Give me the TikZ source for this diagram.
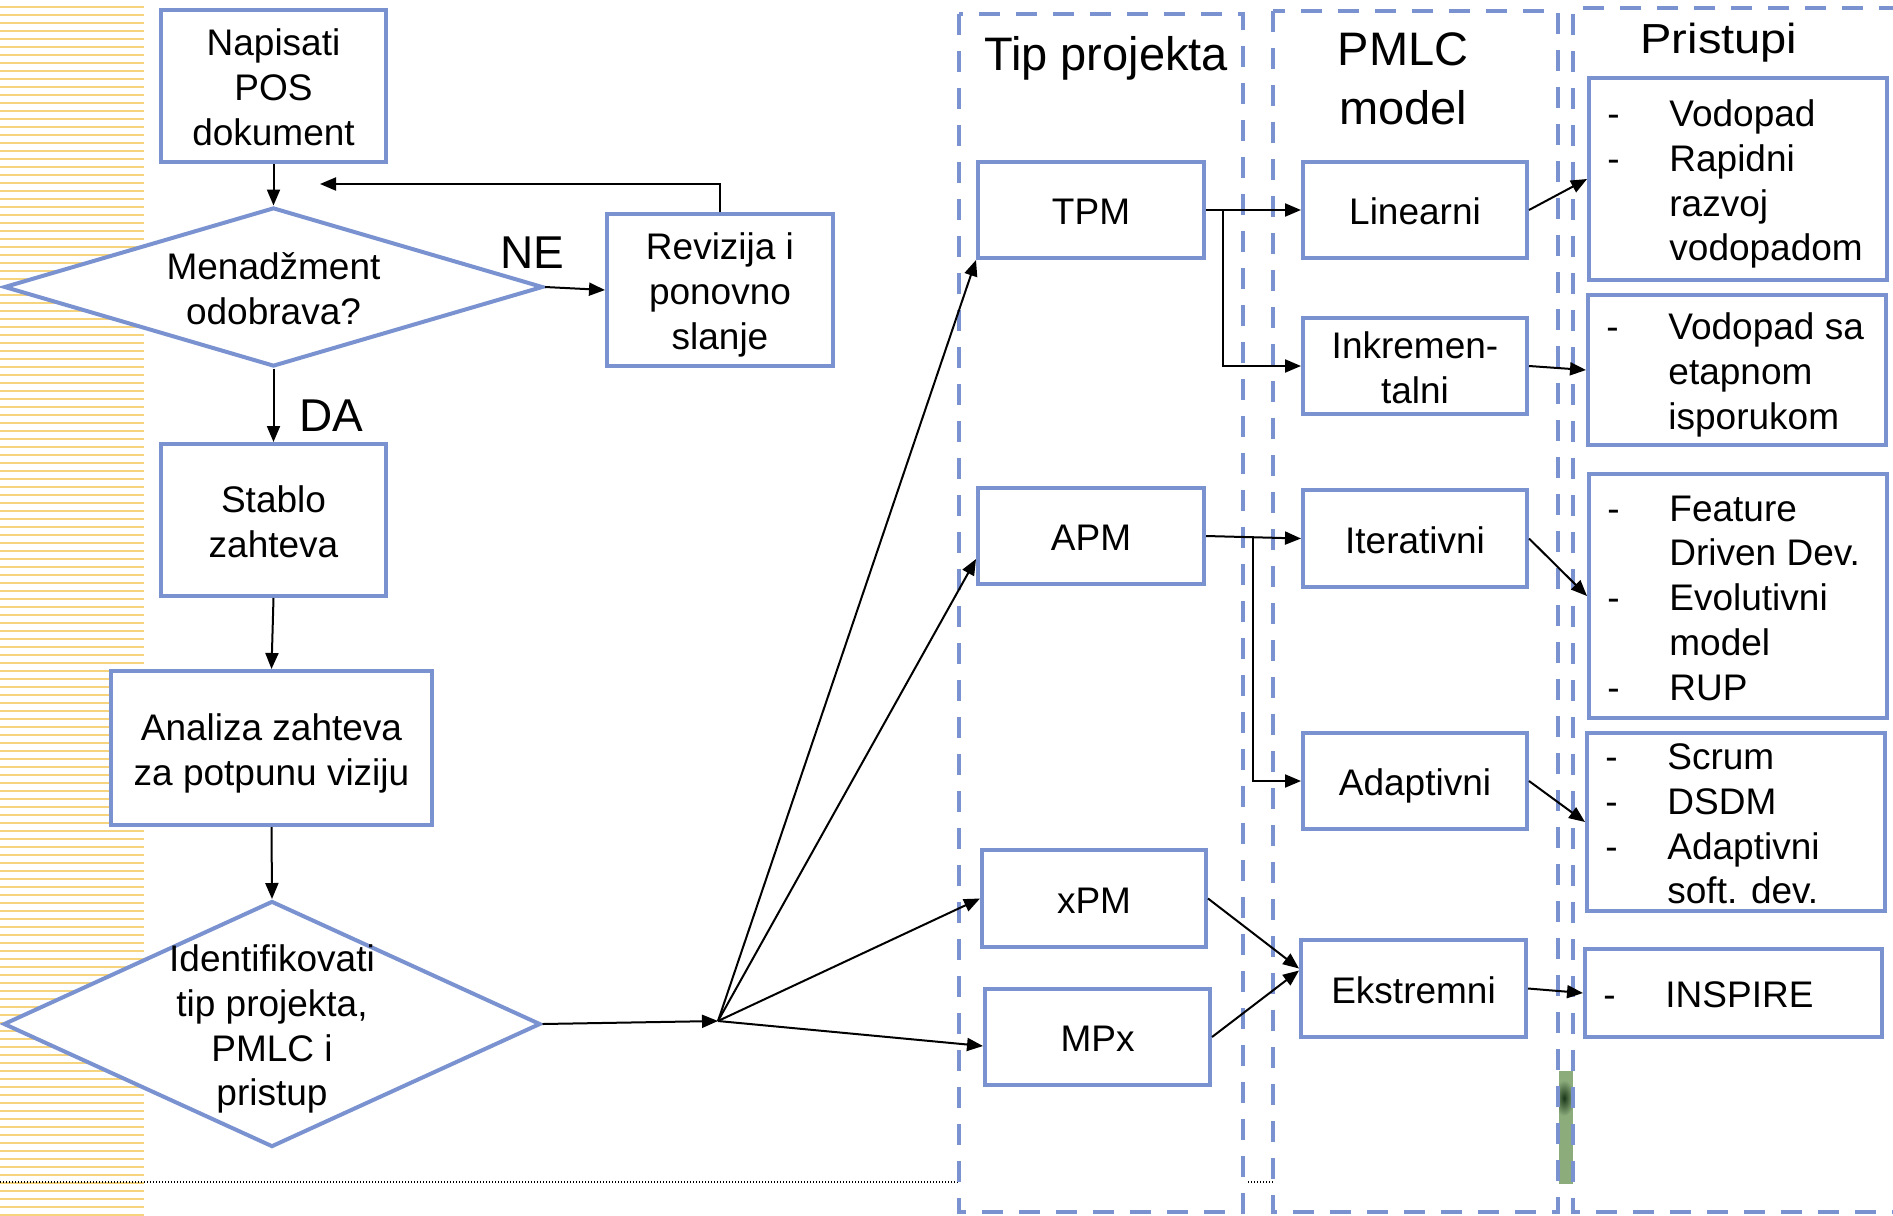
\documentclass[tikz,border=0pt]{standalone}
\usepackage{fontspec}
\setmainfont{Liberation Sans}
\usepackage{graphicx}
\usetikzlibrary{shapes.geometric,arrows.meta,calc}
\definecolor{bbl}{RGB}{122,146,208}
\definecolor{stripe}{RGB}{246,212,125}
\definecolor{gbar}{RGB}{140,172,124}
\definecolor{gdark}{RGB}{25,55,25}
\newcommand\ms{\rule[-3.85pt]{0pt}{22.35pt}}
\newcommand\dl{\makebox[31pt][l]{-}}
\newcommand\ind{\hspace*{31pt}}
\begin{document}
\begin{tikzpicture}[x=0.5pt,y=-0.5pt,
  bx/.style={draw=bbl,line width=2pt,fill=white,inner sep=0pt,align=center,font=\fontsize{18.5}{22.35}\selectfont},
  dia/.style={diamond,draw=bbl,line width=2pt,fill=white,inner sep=0pt},
  txt/.style={inner sep=0pt,align=center,font=\fontsize{18.5}{22.35}\selectfont},
  lt/.style={inner sep=0pt,align=left,anchor=west,font=\fontsize{18.5}{22.35}\selectfont},
  arr/.style={-{Triangle[length=8pt,width=6.5pt]},line width=1pt,black},
  cols/.style={draw=bbl,line width=2pt,dash pattern=on 10.5pt off 8pt},
  hdr/.style={inner sep=0pt,anchor=base,font=\fontsize{23.5}{28}\selectfont},
  lbl/.style={inner sep=0pt,anchor=base,font=\fontsize{23}{27}\selectfont}]
\useasboundingbox (0,0) rectangle (1893,1215);
\clip (0,0) rectangle (1893,1215);
% stripes
\foreach \y in {7,15,...,1215} \draw[stripe,line width=0.9pt] (0,\y) -- (144,\y);
% dotted line
\draw[black,line width=0.6pt,dash pattern=on 0.7pt off 0.8pt] (0,1182) -- (959,1182);
\draw[black,line width=0.6pt,dash pattern=on 0.7pt off 0.8pt] (1248,1182) -- (1273,1182);
% green bar
\fill[gbar] (1559,1071) rectangle (1573,1184);
\begin{scope}
\clip (1559,1071) rectangle (1573,1184);
\shade[inner color=gdark,outer color=gbar] (1564,1098) ellipse [x radius=5pt,y radius=9pt];
\end{scope}
% dashed columns
\draw[cols] (959,14) rectangle (1243,1212);
\draw[cols] (1273,11) rectangle (1558,1212);
\draw[cols] (1900,8) -- (1573,8) -- (1573,1212) -- (1900,1212);
% headers
\node[hdr] (h1) at (1106,70) {Tip projekta};
\node[hdr] (h2a) at (1403,65) {PMLC};
\node[hdr] (h2b) at (1403,124) {model};
\node[inner sep=0pt,anchor=base,font=\fontsize{21}{25}\selectfont] (h3) at (1719,53) {\scalebox{1.12}[1]{Pristupi}};
% left flow
\node[bx,minimum width=112.5pt,minimum height=76pt] (pos) at (273.5,86) {\ms Napisati\\POS\\dokument\ms};
\node[dia,minimum width=269.5pt,minimum height=79.5pt] (d1) at (273.5,287) {};
\node[txt] (d1t) at (d1.center) {\ms Menadžment\\odobrava?\ms};
\node[bx,minimum width=113pt,minimum height=76pt] (rev) at (720,290) {\ms Revizija i\\ponovno\\slanje\ms};
\node[bx,minimum width=112.5pt,minimum height=76pt] (sta) at (273.5,520) {\ms Stablo\\zahteva\ms};
\node[bx,minimum width=160.5pt,minimum height=77pt] (ana) at (271.5,748) {\ms Analiza zahteva\\za potpunu viziju\ms};
\node[dia,minimum width=268.5pt,minimum height=123pt] (d2) at (272,1024) {};
\node[txt] (d2t) at (d2.center) {\ms Identifikovati\\tip projekta,\\PMLC i\\pristup\ms};
\node[lbl] (ne) at (532,268) {NE};
\node[lbl] (da) at (331,431) {DA};
% project types
\node[bx,minimum width=113pt,minimum height=48pt] (tpm) at (1091,210) {\ms TPM};
\node[bx,minimum width=113pt,minimum height=48pt] (apm) at (1091,536) {\ms APM};
\node[bx,minimum width=112pt,minimum height=48.5pt] (xpm) at (1094,898.5) {\ms xPM};
\node[bx,minimum width=112.5pt,minimum height=48pt] (mpx) at (1097.5,1037) {\ms MPx};
% PMLC models
\node[bx,minimum width=112pt,minimum height=48pt] (lin) at (1415,210) {\ms Linearni};
\node[bx,minimum width=112pt,minimum height=48pt] (ink) at (1415,366) {\ms Inkremen-\\talni\ms};
\node[bx,minimum width=112pt,minimum height=48.5pt] (ite) at (1415,538.5) {\ms Iterativni};
\node[bx,minimum width=112pt,minimum height=48pt] (ada) at (1415,781) {\ms Adaptivni};
\node[bx,minimum width=112.5pt,minimum height=48.5pt] (eks) at (1413.5,988.5) {\ms Ekstremni};
% approaches
\node[bx,minimum width=149pt,minimum height=101pt] (p1) at (1738,179) {};
\node[lt] (p1t) at ([xshift=10pt]p1.west) {\ms\dl Vodopad\\\dl Rapidni\\\ind razvoj\\\ind vodopadom\ms};
\node[bx,minimum width=149pt,minimum height=75pt] (p2) at (1737,370) {};
\node[lt] (p2t) at ([xshift=10pt]p2.west) {\ms\dl Vodopad sa\\\ind etapnom\\\ind isporukom\ms};
\node[bx,minimum width=149pt,minimum height=122pt] (p3) at (1738,596) {};
\node[lt] (p3t) at ([xshift=10pt]p3.west) {\ms\dl Feature\\\ind Driven Dev.\\\dl Evolutivni\\\ind model\\\dl RUP\ms};
\node[bx,minimum width=149pt,minimum height=89pt] (p4) at (1736,822) {};
\node[lt] (p4t) at ([xshift=10pt]p4.west) {\ms\dl Scrum\\\dl DSDM\\\dl Adaptivni\\\ind soft. dev.\ms};
\node[bx,minimum width=148.5pt,minimum height=44pt] (p5) at (1733.5,993) {};
\node[lt] (p5t) at ([xshift=10pt]p5.west) {\ms\dl INSPIRE};
% connectors left
\draw[arr] (pos.south) -- (d1.north);
\draw[arr] (d1.east) -- (rev.west);
\coordinate (fb) at (320,184);
\draw[arr] (rev.north) |- (fb);
\draw[arr] (d1.south) -- (sta.north);
\draw[arr] (sta.south) -- (ana.north);
\draw[arr] (ana.south) -- (d2.north);
\coordinate (fan) at (718,1021);
\draw[arr] (d2.east) -- (fan);
\draw[arr] (fan) -- (tpm.south west);
\draw[arr] (fan) -- ($(apm.west)+(0,23)$);
\draw[arr] (fan) -- (xpm.west);
\draw[arr] (fan) -- ($(mpx.west)+(0,9)$);
% connectors middle
\draw[arr] (tpm.east) -- (lin.west);
\coordinate (tb) at (1223,211);
\draw[arr] (tb) |- (ink.west);
\draw[arr] (apm.east) -- (ite.west);
\coordinate (ab) at (1253,536);
\draw[arr] (ab) |- (ada.west);
\draw[arr] (xpm.east) -- ($(eks.west)+(0,-20)$);
\draw[arr] (mpx.east) -- ($(eks.west)+(0,-18)$);
% connectors right
\draw[arr] (lin.east) -- (p1.west);
\draw[arr] (ink.east) -- (p2.west);
\draw[arr] (ite.east) -- (p3.west);
\draw[arr] (ada.east) -- (p4.west);
\draw[arr] (eks.east) -- (p5.west);
\end{tikzpicture}
\end{document}
